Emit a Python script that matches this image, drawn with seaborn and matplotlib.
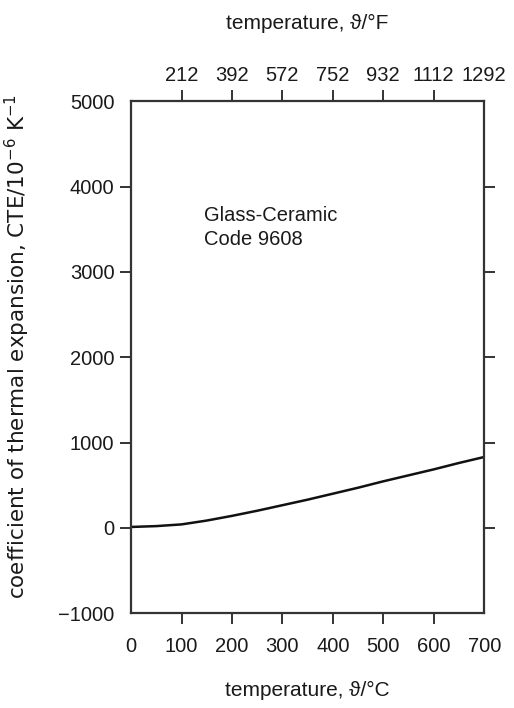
import numpy as np
import pandas as pd
import matplotlib
matplotlib.use("Agg")
import matplotlib.pyplot as plt
import seaborn as sns

# data
temp_c = [0, 50, 100, 150, 200, 250, 300, 350, 400, 450, 500, 550, 600, 650, 700]
cte = [10, 20, 40, 85, 140, 200, 265, 330, 400, 470, 545, 615, 685, 760, 830]
f_ticks = [212, 392, 572, 752, 932, 1112, 1292]
y_ticks = [-1000, 0, 1000, 2000, 3000, 4000, 5000]
x_ticks = [0, 100, 200, 300, 400, 500, 600, 700]

sns.set_style("white")
plt.rcParams['font.family'] = ['Liberation Sans', 'DejaVu Sans']
plt.rcParams['text.color'] = '#1a1a1a'
plt.rcParams['xtick.color'] = '#333333'
plt.rcParams['ytick.color'] = '#333333'
plt.rcParams['xtick.labelcolor'] = '#1a1a1a'
plt.rcParams['ytick.labelcolor'] = '#1a1a1a'
plt.rcParams['axes.labelcolor'] = '#1a1a1a'

df = pd.DataFrame({"temp": temp_c, "cte": cte})

fig = plt.figure(figsize=(5.14, 7.08), dpi=100)
ax = fig.add_axes([0.255, 0.134, 0.687, 0.723])

sns.lineplot(data=df, x="temp", y="cte", ax=ax, color="#111111", linewidth=1.8)

ax.set_xlim(0, 700)
ax.set_ylim(-1000, 5000)
ax.set_xticks(x_ticks)
ax.set_yticks(y_ticks)
ax.set_xticklabels([str(t) for t in x_ticks])
ax.set_yticklabels(["\u22121000" if t < 0 else str(t) for t in y_ticks])
# tick marks only at the inner positions
ax.xaxis.remove_overlapping_locs = False
ax.yaxis.remove_overlapping_locs = False
ax.set_xticks(x_ticks[1:-1], minor=True)
ax.set_yticks(y_ticks[1:-1], minor=True)

for s in ax.spines.values():
    s.set_color("#333333")
    s.set_linewidth(1.6)

ax.tick_params(axis="both", which="major", length=0, labelsize=14.5, pad=12)
ax.tick_params(axis="both", which="minor", direction="out", length=8, width=1.4,
               color="#333333")
ax.tick_params(axis="y", which="both", left=True, right=True, labelright=False)
ax.tick_params(axis="x", which="both", bottom=True)
ax.tick_params(axis="x", which="major", pad=17)

ax.set_xlabel("temperature, \u03d1/\u00b0C", fontsize=15, labelpad=18)
ax.set_ylabel("coefficient of thermal expansion, CTE/10$^{-6}$ K$^{-1}$",
              fontsize=15.5, family=['DejaVu Sans'])
ax.yaxis.set_label_coords(-0.28, 0.52)

c2f = lambda c: c * 9 / 5 + 32
f2c = lambda f: (f - 32) * 5 / 9
top = ax.secondary_xaxis("top", functions=(c2f, f2c))
top.xaxis.remove_overlapping_locs = False
top.set_xticks(f_ticks)
top.set_xticklabels([str(t) for t in f_ticks])
top.set_xticks(f_ticks[:-1], minor=True)
top.tick_params(which="major", length=0, labelsize=14.5, pad=12)
top.tick_params(which="minor", direction="out", length=8, width=1.4, color="#333333")
top.spines["top"].set_visible(False)
top.set_xlabel("temperature, \u03d1/\u00b0F", fontsize=15, labelpad=26)

ax.text(145, 3520, "Glass-Ceramic\nCode 9608", fontsize=14.5, va="center", ha="left",
        linespacing=1.3)

fig.savefig("out.png", dpi=100)
